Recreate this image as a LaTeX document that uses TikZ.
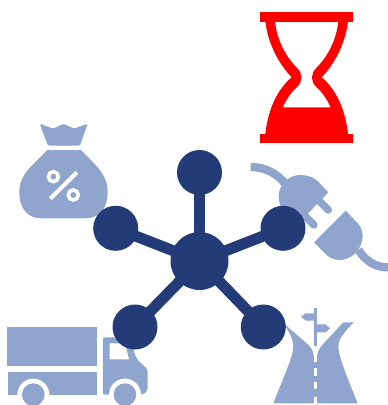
\documentclass[tikz,border=0pt]{standalone}
\definecolor{hub}{HTML}{233B77}
\definecolor{pale}{HTML}{8FA5CE}
\tikzset{
  hubnode/.style={circle,fill=hub,draw=none,inner sep=0pt,minimum size=45pt},
  hubcentre/.style={circle,fill=hub,draw=none,inner sep=0pt,minimum size=58pt},
  spoke/.style={draw=hub,line width=11pt},
  paleshape/.style={fill=pale,draw=none},
  paleline/.style={draw=pale,line width=8.3pt},
  gap/.style={fill=white,draw=none},
  zoomA/.style={shift={(#1)},x=0.3333pt,y=-0.3333pt}
}
\begin{document}
\begin{tikzpicture}[x=1pt,y=-1pt]
\useasboundingbox (0,0) rectangle (388,405);
% hourglass
\begin{scope}[zoomA={240,0}]
\fill[red] (61,37) rectangle (339,65);
\fill[red] (61,402) rectangle (339,430);
\fill[red,even odd rule] (76,65) .. controls (84,130) and (115,190) .. (155,232)
  .. controls (110,270) and (84,330) .. (76,402) -- (324,402)
  .. controls (316,330) and (290,270) .. (245,232)
  .. controls (285,190) and (316,130) .. (324,65) -- cycle
  (105,65) -- (295,65) .. controls (288,125) and (262,170) .. (228,205)
  .. controls (212,220) and (212,245) .. (228,260)
  .. controls (248,278) and (262,300) .. (272,322) -- (128,322)
  .. controls (138,300) and (152,278) .. (172,260)
  .. controls (188,245) and (188,220) .. (172,205)
  .. controls (138,170) and (112,125) .. (105,65) -- cycle;
\end{scope}
% money bag
\begin{scope}[zoomA={0,115}]
\fill[pale,rounded corners=1.5pt] (119,26) -- (160,41) -- (191,26) -- (222,41) -- (263,26) -- (240,92) -- (144,92) -- cycle;
\fill[pale] (142,105) -- (243,105) .. controls (280,145) and (323,175) .. (323,230)
  .. controls (323,285) and (295,310) .. (255,310) -- (125,310)
  .. controls (85,310) and (58,285) .. (58,230)
  .. controls (58,175) and (105,145) .. (142,105) -- cycle;
\draw[white,line width=3.6pt] (160,185) circle[radius=15];
\draw[white,line width=3.6pt] (220,240) circle[radius=15];
\draw[white,line width=4pt] (151,251) -- (231,172);
\end{scope}
% plug and socket
\begin{scope}[zoomA={240,155}]
\draw[paleline] (32,36) .. controls (75,36) and (110,55) .. (135,85);
\draw[pale,line width=7.5pt,line cap=round] (235,135) -- (265,165);
\draw[pale,line width=7.5pt,line cap=round] (192,180) -- (222,210);
\fill[pale] (233,78) -- (265,112) -- (185,195) .. controls (150,195) and (116,165) .. (116,125)
  .. controls (116,85) and (150,60) .. (180,60) .. controls (200,60) and (220,66) .. (233,78) -- cycle;
\draw[paleline] (355,285) .. controls (380,322) and (410,337) .. (444,337);
\fill[pale] (317,167) -- (352,203) .. controls (375,228) and (372,265) .. (350,290)
  .. controls (330,315) and (290,325) .. (262,302) -- (222,262) -- cycle;
\end{scope}
% truck
\begin{scope}[zoomA={0,315}]
\fill[pale] (21,37) rectangle (291,152);
\fill[pale] (23,172) rectangle (291,239);
\fill[pale,rounded corners=2pt] (309,67) -- (400,67) -- (400,105) -- (412,135) -- (443,162) -- (443,225) -- (430,239) -- (309,239) -- cycle;
\fill[gap] (329,85) -- (375,85) -- (387,133) -- (329,133) -- cycle;
\fill[gap] (100,239) circle[radius=48];
\fill[gap] (375,239) circle[radius=48];
\fill[pale] (100,239) circle[radius=34];
\fill[pale] (375,239) circle[radius=34];
\end{scope}
% fork in the road
\begin{scope}[zoomA={265,300}]
\fill[pale] (50,65) -- (125,130) .. controls (138,142) and (145,152) .. (147,170) -- (156,170)
  .. controls (158,152) and (165,142) .. (178,128) -- (235,67) -- (266,67)
  .. controls (240,95) and (220,115) .. (220,140) .. controls (220,170) and (250,240) .. (278,310)
  -- (25,310) .. controls (50,245) and (85,170) .. (85,140) .. controls (85,115) and (70,90) .. (50,65) -- cycle;
\fill[gap] (146,165) rectangle (157,185);
\fill[gap] (146,205) rectangle (157,228);
\fill[gap] (146,246) rectangle (157,268);
\fill[gap] (146,290) rectangle (157,312);
\fill[pale] (148,25) rectangle (155,137);
\fill[pale] (108,50) -- (122,40) -- (148,40) -- (148,62) -- (122,62) -- cycle;
\fill[pale] (155,73) -- (182,73) -- (195,85) -- (182,97) -- (155,97) -- cycle;
\end{scope}
% network
\node[hubcentre] (c) at (199.5,261) {};
\node[hubnode] (n1) at (199.5,172.5) {};
\node[hubnode] (n2) at (115.7,228.3) {};
\node[hubnode] (n3) at (283,228.3) {};
\node[hubnode] (n4) at (135,327) {};
\node[hubnode] (n5) at (263.3,327) {};
\foreach \n in {n1,n2,n3,n4,n5} \draw[spoke] (c.center) -- (\n.center);
\end{tikzpicture}
\end{document}
